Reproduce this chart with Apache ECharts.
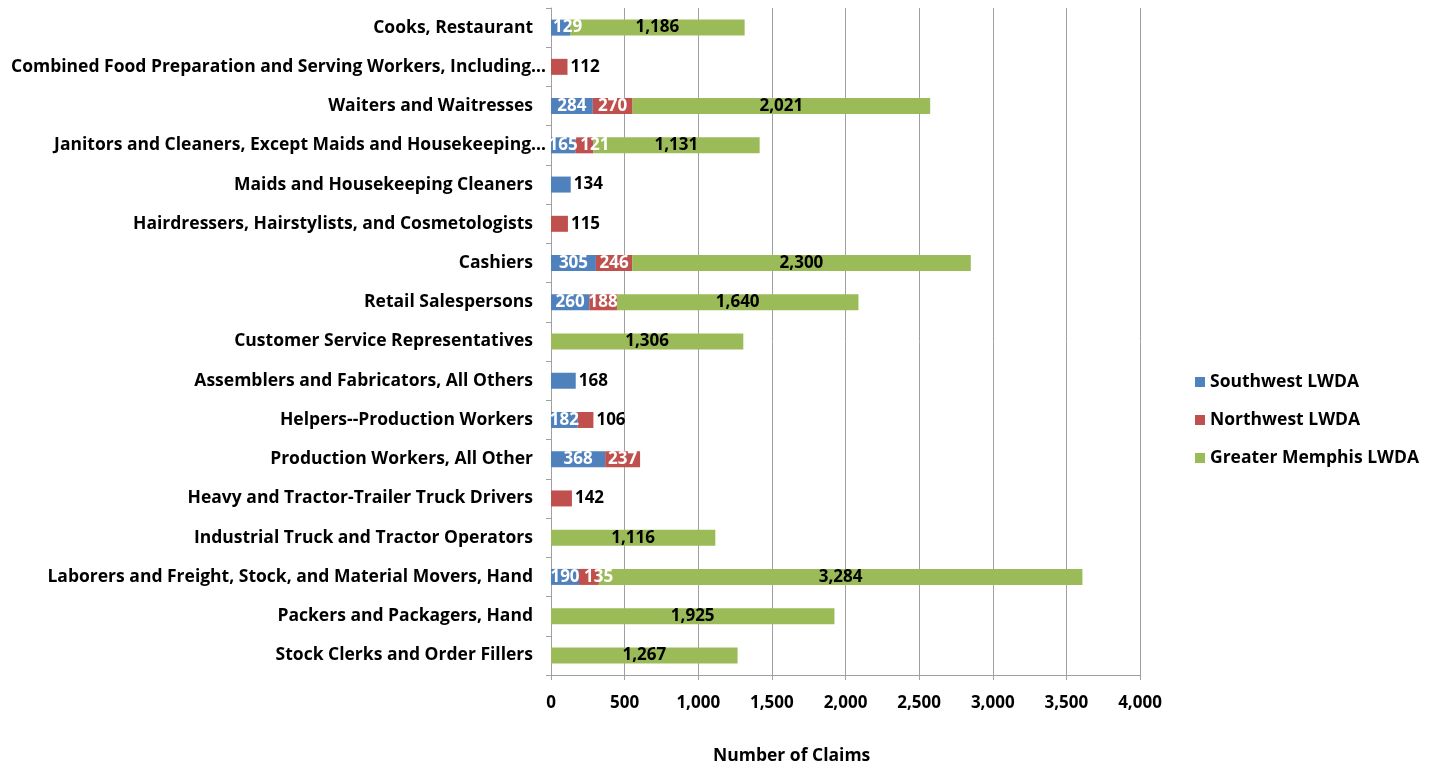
<!DOCTYPE html>
<html>
<head>
<meta charset="utf-8">
<title>Number of Claims by occupation</title>
<script src="https://cdn.jsdelivr.net/npm/echarts@6/dist/echarts.min.js"></script>
<style>
  html, body { margin: 0; padding: 0; background: #fff; }
  #main { width: 1435px; height: 768px; }
</style>
</head>
<body>
<div id="main"></div>
<script>
var categories = [
    'Cooks, Restaurant',
    'Combined Food Preparation and Serving Workers, Including…',
    'Waiters and Waitresses',
    'Janitors and Cleaners, Except Maids and Housekeeping…',
    'Maids and Housekeeping Cleaners',
    'Hairdressers, Hairstylists, and Cosmetologists',
    'Cashiers',
    'Retail Salespersons',
    'Customer Service Representatives',
    'Assemblers and Fabricators, All Others',
    'Helpers--Production Workers',
    'Production Workers, All Other',
    'Heavy and Tractor-Trailer Truck Drivers',
    'Industrial Truck and Tractor Operators',
    'Laborers and Freight, Stock, and Material Movers, Hand',
    'Packers and Packagers, Hand',
    'Stock Clerks and Order Fillers'
]
var southwest = [129, null, 284, 165, 134, null, 305, 260, null, 168, 182, 368, null, null, 190, null, null]
var northwest = [null, 112, 270, 121, null, 115, 246, 188, null, null, 106, 237, 142, null, 135, null, null]
var memphis = [1186, null, 2021, 1131, null, null, 2300, 1640, 1306, null, null, null, null, 1116, 3284, 1925, 1267]
var xTicks = [0, 500, 1000, 1500, 2000, 2500, 3000, 3500, 4000]

var seriesNames = ['Southwest LWDA', 'Northwest LWDA', 'Greater Memphis LWDA']
var colors = ['#4F81BD', '#C0504D', '#9BBB59']
var FONT = '"Open Sans", sans-serif'
var FS = 17.5

function fmt(v) {
    return Number(v).toLocaleString('en-US')
}

// small last segment -> label outside in black, narrow inner segment -> label from its left edge
function buildData(vals, idx) {
    var all = [southwest, northwest, memphis]
    return vals.map(function (v, i) {
        if (v == null) return '-'
        var isLast = true
        for (var k = idx + 1; k < all.length; k++) {
            if (all[k][i] != null) isLast = false
        }
        if (isLast && v < 200) {
            return { value: v, label: { position: 'right', distance: 3, color: '#000' } }
        }
        if (v < 150) {
            return { value: v, label: { position: 'insideLeft', distance: idx == 0 ? 2 : 5 } }
        }
        return v
    })
}

var series = [southwest, northwest, memphis].map(function (vals, idx) {
    return {
        name: seriesNames[idx],
        type: 'bar',
        stack: 'total',
        barWidth: 16,
        itemStyle: { color: colors[idx] },
        label: {
            show: true,
            position: 'inside',
            color: idx == 2 ? '#000' : '#fff',
            fontFamily: FONT,
            fontWeight: 'bold',
            fontSize: 17,
            formatter: function (p) { return fmt(p.value) }
        },
        data: buildData(vals, idx)
    }
})

// truncated names sit a bit closer to the axis, like the original
var yData = categories.map(function (c) {
    if (c.slice(-1) == '…') return { value: c, textStyle: { padding: [0, -13, 0, 0] } }
    return c
})

var chart = echarts.init(document.getElementById('main'))
chart.setOption({
    animation: false,
    title: {
        text: 'Number of Claims',
        left: 713,
        top: 747,
        padding: 0,
        textStyle: { fontFamily: FONT, fontWeight: 'bold', fontSize: FS, color: '#000' }
    },
    legend: {
        orient: 'vertical',
        left: 1190,
        top: 368,
        itemWidth: 10,
        itemHeight: 10,
        itemGap: 20,
        icon: 'rect',
        data: seriesNames,
        textStyle: { fontFamily: FONT, fontWeight: 'bold', fontSize: FS, color: '#000' }
    },
    grid: { left: 551, right: 295, top: 8, bottom: 93 },
    xAxis: {
        type: 'value',
        min: xTicks[0],
        max: xTicks[xTicks.length - 1],
        interval: xTicks[1] - xTicks[0],
        axisLine: { show: true, lineStyle: { color: '#a0a0a0' } },
        axisTick: { show: true, length: 5, lineStyle: { color: '#a0a0a0' } },
        splitLine: { show: true, lineStyle: { color: '#a0a0a0' } },
        axisLabel: {
            margin: 20,
            fontFamily: FONT, fontWeight: 'bold', fontSize: 17, color: '#000',
            formatter: function (v) { return fmt(v) }
        }
    },
    yAxis: {
        type: 'category',
        inverse: true,
        data: yData,
        axisLine: { show: true, lineStyle: { color: '#a0a0a0' } },
        axisTick: { show: true, length: 5, lineStyle: { color: '#a0a0a0' } },
        splitLine: { show: false },
        axisLabel: {
            margin: 18,
            fontFamily: FONT, fontWeight: 'bold', fontSize: FS, color: '#000'
        }
    },
    series: series
})
</script>
</body>
</html>
